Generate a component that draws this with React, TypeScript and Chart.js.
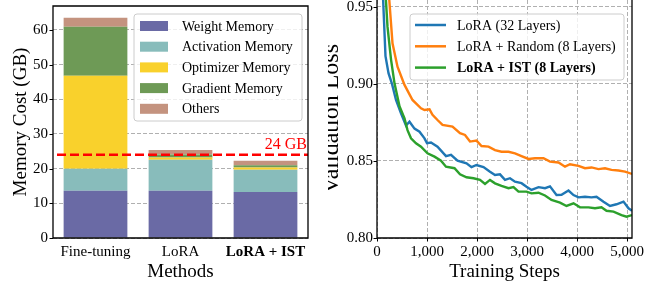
import React, { useEffect, useRef } from "react";
import { Chart, registerables } from "chart.js";
Chart.register(...registerables);

const FONT = "'Liberation Serif', 'Times New Roman', serif";

// ---- Left chart data ----
const methods = ["Fine-tuning", "LoRA", "LoRA + IST"];
const weightMemory = [13.6, 13.6, 13.3];
const activationMemory = [6.4, 9.0, 6.4];
const optimizerMemory = [26.8, 0.6, 0.65];
const gradientMemory = [14.1, 0.9, 0.65];
const otherMemory = [2.6, 1.3, 1.3];
const memoryLimit = 24;
const memoryTicks = [0, 10, 20, 30, 40, 50, 60];
const memorySeriesNames = ["Weight Memory", "Activation Memory", "Optimizer Memory", "Gradient Memory", "Others"];
const memoryColors = ["#6a6aa5", "#88bcbb", "#f9d12c", "#6e9a56", "#c4937f"];

// ---- Right chart data ----
const stepTicks = [0, 1000, 2000, 3000, 4000, 5000];
const lossTicks = [0.8, 0.85, 0.9, 0.95];

const loraSteps = [100, 170, 230, 300, 380, 480, 580, 650, 750, 850, 950, 1000, 1080, 1210, 1380, 1480, 1610, 1790, 1890, 1990, 2130, 2260, 2360, 2460, 2560, 2660, 2760, 2890, 2990, 3090, 3230, 3360, 3460, 3590, 3690, 3830, 3930, 4030, 4160, 4290, 4390, 4530, 4660, 4790, 4930, 5030, 5100];
const loraLoss = [0.972, 0.918, 0.907, 0.9, 0.8896, 0.881, 0.873, 0.8755, 0.871, 0.869, 0.8647, 0.8615, 0.862, 0.8593, 0.8532, 0.854, 0.8502, 0.8485, 0.846, 0.8474, 0.846, 0.843, 0.8409, 0.8413, 0.8377, 0.8388, 0.8366, 0.8356, 0.8333, 0.8312, 0.833, 0.8323, 0.8335, 0.8279, 0.8281, 0.8308, 0.8279, 0.8264, 0.8268, 0.8264, 0.8268, 0.8236, 0.8208, 0.8219, 0.8236, 0.8193, 0.8177];

const randomSteps = [200, 310, 410, 550, 710, 880, 950, 1050, 1110, 1210, 1310, 1510, 1660, 1760, 1860, 1990, 2090, 2230, 2360, 2490, 2630, 2760, 2890, 3030, 3160, 3330, 3460, 3630, 3760, 3860, 4030, 4160, 4290, 4430, 4560, 4690, 4830, 4960, 5100];
const randomLoss = [0.9745, 0.9264, 0.9112, 0.8994, 0.8896, 0.8842, 0.8831, 0.8835, 0.88, 0.8766, 0.8734, 0.8723, 0.868, 0.8669, 0.8626, 0.8632, 0.8597, 0.8593, 0.8571, 0.856, 0.856, 0.855, 0.8532, 0.8513, 0.8518, 0.8518, 0.8496, 0.849, 0.8463, 0.8479, 0.8468, 0.8453, 0.8458, 0.8447, 0.8453, 0.8442, 0.8438, 0.8431, 0.8416];

const istSteps = [150, 210, 280, 350, 450, 550, 610, 680, 780, 880, 1010, 1150, 1280, 1380, 1550, 1660, 1790, 1930, 2060, 2160, 2260, 2360, 2490, 2630, 2730, 2830, 2990, 3090, 3230, 3360, 3490, 3660, 3790, 3930, 4060, 4230, 4360, 4490, 4590, 4730, 4890, 4990, 5100];
const istLoss = [0.97, 0.9372, 0.916, 0.9004, 0.8855, 0.8777, 0.87, 0.8647, 0.8615, 0.8593, 0.855, 0.8528, 0.8502, 0.8463, 0.8453, 0.8413, 0.8394, 0.8388, 0.8377, 0.8351, 0.8377, 0.8355, 0.8338, 0.8323, 0.833, 0.8301, 0.8301, 0.829, 0.8294, 0.8276, 0.8247, 0.823, 0.8208, 0.8225, 0.8199, 0.8199, 0.8193, 0.8199, 0.8177, 0.8171, 0.8149, 0.8138, 0.8149];

const lineNames = ["LoRA (32 Layers)", "LoRA + Random (8 Layers)", "LoRA + IST (8 Layers)"];
const lineColors = ["#1f77b4", "#ff7f0e", "#2ca02c"];

const zip = (xs: number[], ys: number[]) => xs.map((x, i) => ({ x, y: ys[i] }));

function legendBox(ctx: CanvasRenderingContext2D, x: number, y: number, w: number, h: number) {
  ctx.save();
  ctx.beginPath();
  (ctx as any).roundRect(x, y, w, h, 3);
  ctx.fillStyle = "rgba(255,255,255,0.8)";
  ctx.fill();
  ctx.strokeStyle = "#cccccc";
  ctx.lineWidth = 1;
  ctx.stroke();
  ctx.restore();
}

function frame(ctx: CanvasRenderingContext2D, a: any, top: boolean) {
  ctx.save();
  ctx.strokeStyle = "#000";
  ctx.lineWidth = 1.3;
  ctx.beginPath();
  if (top) {
    ctx.rect(a.left, a.top, a.right - a.left, a.bottom - a.top);
  } else {
    ctx.moveTo(a.left, a.top);
    ctx.lineTo(a.left, a.bottom);
    ctx.lineTo(a.right, a.bottom);
    ctx.lineTo(a.right, a.top);
  }
  ctx.stroke();
  ctx.restore();
}

function zeroPad(s: any) {
  s.paddingTop = 0;
  s.paddingBottom = 0;
  s.paddingLeft = 0;
  s.paddingRight = 0;
}

const fixedTicks = (vals: number[]) => (s: any) => {
  s.ticks = vals.map((value) => ({ value }));
};

export default function App() {
  const leftRef = useRef<HTMLCanvasElement>(null);
  const rightRef = useRef<HTMLCanvasElement>(null);

  useEffect(() => {
    Chart.defaults.font.family = FONT;
    Chart.defaults.color = "#000";

    const leftPlugin = {
      id: "leftDecor",
      afterDatasetsDraw(chart: any) {
        const { ctx, chartArea: a, scales } = chart;
        const y = scales.y.getPixelForValue(memoryLimit);
        ctx.save();
        ctx.strokeStyle = "#ff0000";
        ctx.lineWidth = 2.5;
        ctx.setLineDash([9, 4]);
        ctx.beginPath();
        ctx.moveTo(a.left + 4, y);
        ctx.lineTo(a.right, y);
        ctx.stroke();
        ctx.setLineDash([]);
        ctx.fillStyle = "#ff0000";
        ctx.font = `16px ${FONT}`;
        ctx.textAlign = "right";
        ctx.textBaseline = "bottom";
        ctx.fillText(`${memoryLimit} GB`, a.right - 1, y - 2);
        ctx.restore();
      },
      afterDraw(chart: any) {
        const { ctx, chartArea: a, scales } = chart;
        frame(ctx, a, true);
        ctx.save();
        ctx.strokeStyle = "#000";
        ctx.lineWidth = 1;
        scales.y.ticks.forEach((t: any) => {
          const py = Math.round(scales.y.getPixelForValue(t.value)) + 0.5;
          ctx.beginPath();
          ctx.moveTo(a.left - 3.5, py);
          ctx.lineTo(a.left, py);
          ctx.stroke();
        });
        ctx.restore();
        const bx = a.right - 174, by = a.top + 8, bw = 168, bh = 107;
        legendBox(ctx, bx, by, bw, bh);
        ctx.save();
        ctx.font = `14px ${FONT}`;
        ctx.textBaseline = "middle";
        ctx.textAlign = "left";
        chart.data.datasets.forEach((d: any, i: number) => {
          const cy = by + 12 + i * 20.7;
          ctx.fillStyle = d.backgroundColor;
          ctx.fillRect(bx + 6, cy - 5, 28, 10);
          ctx.fillStyle = "#000";
          ctx.fillText(d.label, bx + 48, cy + 1);
        });
        ctx.restore();
      },
    };

    const left = new Chart(leftRef.current!, {
      type: "bar",
      data: {
        labels: methods,
        datasets: [weightMemory, activationMemory, optimizerMemory, gradientMemory, otherMemory].map((vals, i) => ({
          label: memorySeriesNames[i],
          data: vals,
          backgroundColor: memoryColors[i],
          borderWidth: 0,
          barPercentage: 0.75,
          categoryPercentage: 1,
        })),
      },
      options: {
        responsive: false,
        animation: false,
        devicePixelRatio: 1,
        layout: { padding: { top: 6, right: 23, left: 0, bottom: 0 } },
        plugins: { legend: { display: false }, tooltip: { enabled: false } },
        scales: {
          x: {
            stacked: true,
            grid: { display: false, drawTicks: false },
            border: { display: false },
            ticks: {
              padding: 5,
              maxRotation: 0,
              autoSkip: false,
              color: "#000",
              font: (c: any) => ({ size: 15, family: FONT, weight: c.index === 2 ? "bold" : "normal" }),
            },
            title: { display: true, text: "Methods", color: "#000", font: { size: 19, family: FONT }, padding: { top: 0, bottom: 0 } },
            afterFit: (s: any) => { s.height = 45; zeroPad(s); },
          },
          y: {
            stacked: true,
            min: 0,
            max: 66.9,
            grid: { color: "#b0b0b0", lineWidth: 1, drawTicks: false },
            border: { display: false, dash: [4, 2] },
            ticks: { padding: 5, color: "#000", font: { size: 15, family: FONT } },
            afterBuildTicks: fixedTicks(memoryTicks),
            title: { display: true, text: "Memory Cost (GB)", color: "#000", font: { size: 19, family: FONT }, padding: { top: 10, bottom: 0 } },
            afterFit: (s: any) => { s.width = 53; zeroPad(s); },
          },
        },
      } as any,
      plugins: [leftPlugin],
    });

    const rightPlugin = {
      id: "rightDecor",
      afterDraw(chart: any) {
        const { ctx, chartArea: a, scales } = chart;
        frame(ctx, a, false);
        ctx.save();
        ctx.strokeStyle = "#000";
        ctx.lineWidth = 1;
        scales.y.ticks.forEach((t: any) => {
          const py = Math.round(scales.y.getPixelForValue(t.value)) + 0.5;
          ctx.beginPath();
          ctx.moveTo(a.left - 3.5, py);
          ctx.lineTo(a.left, py);
          ctx.stroke();
        });
        scales.x.ticks.forEach((t: any) => {
          const px = Math.round(scales.x.getPixelForValue(t.value)) + 0.5;
          ctx.beginPath();
          ctx.moveTo(px, a.bottom);
          ctx.lineTo(px, a.bottom + 3.5);
          ctx.stroke();
        });
        ctx.restore();
        const bx = a.right - 222, by = a.top + 14, bw = 214, bh = 66;
        legendBox(ctx, bx, by, bw, bh);
        ctx.save();
        ctx.textBaseline = "middle";
        ctx.textAlign = "left";
        chart.data.datasets.forEach((d: any, i: number) => {
          const cy = by + 11 + i * 21.3;
          ctx.strokeStyle = d.borderColor;
          ctx.lineWidth = 2.5;
          ctx.beginPath();
          ctx.moveTo(bx + 5, cy);
          ctx.lineTo(bx + 36, cy);
          ctx.stroke();
          ctx.fillStyle = "#000";
          ctx.font = `${i === 2 ? "bold " : ""}14px ${FONT}`;
          ctx.fillText(d.label, bx + 47, cy + 1);
        });
        ctx.restore();
      },
    };

    const series = [zip(loraSteps, loraLoss), zip(randomSteps, randomLoss), zip(istSteps, istLoss)];
    const right = new Chart(rightRef.current!, {
      type: "line",
      data: {
        datasets: series.map((pts, i) => ({
          label: lineNames[i],
          data: pts,
          borderColor: lineColors[i],
          backgroundColor: lineColors[i],
          borderWidth: 2.4,
          pointRadius: 0,
          tension: 0,
          fill: false,
          order: 3 - i,
        })),
      },
      options: {
        responsive: false,
        animation: false,
        devicePixelRatio: 1,
        layout: { padding: { top: 0, right: 30, left: 0, bottom: 0 } },
        plugins: { legend: { display: false }, tooltip: { enabled: false } },
        scales: {
          x: {
            type: "linear",
            min: 0,
            max: 5100,
            grid: { color: "#b0b0b0", lineWidth: 1, drawTicks: false },
            border: { display: false, dash: [4, 2] },
            ticks: {
              padding: 5,
              maxRotation: 0,
              autoSkip: false,
              color: "#000",
              font: { size: 15, family: FONT },
              callback: (v: any) => Number(v).toLocaleString("en-US"),
            },
            afterBuildTicks: fixedTicks(stepTicks),
            title: { display: true, text: "Training Steps", color: "#000", font: { size: 19, family: FONT }, padding: { top: 0, bottom: 0 } },
            afterFit: (s: any) => { s.height = 45; zeroPad(s); },
          },
          y: {
            min: 0.8,
            max: 0.9545,
            grid: { color: "#b0b0b0", lineWidth: 1, drawTicks: false },
            border: { display: false, dash: [4, 2] },
            ticks: {
              padding: 4,
              color: "#000",
              font: { size: 15, family: FONT },
              callback: (v: any) => Number(v).toFixed(2),
            },
            afterBuildTicks: fixedTicks(lossTicks),
            title: { display: true, text: "Validation Loss", color: "#000", font: { size: 24, family: FONT, lineHeight: 0.35 }, padding: { top: 0, bottom: 0 } },
            afterFit: (s: any) => { s.width = 49; zeroPad(s); },
          },
        },
      } as any,
      plugins: [rightPlugin],
    });

    return () => {
      left.destroy();
      right.destroy();
    };
  }, []);

  return (
    <div style={{ position: "fixed", left: 0, top: 0, width: 662, height: 283, background: "#fff", overflow: "hidden" }}>
      <canvas ref={leftRef} width={331} height={283} style={{ position: "absolute", left: 0, top: 0, width: 331, height: 283 }} />
      <canvas ref={rightRef} width={334} height={283} style={{ position: "absolute", left: 328, top: 0, width: 334, height: 283 }} />
    </div>
  );
}
